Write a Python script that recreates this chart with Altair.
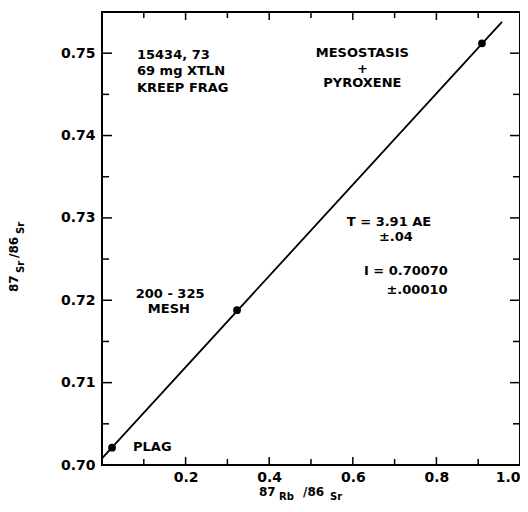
import altair as alt
import pandas as pd

# data points (87Rb/86Sr, 87Sr/86Sr)
pts_x = [0.024, 0.323, 0.909]
pts_y = [0.7021, 0.7188, 0.7512]

# isochron line end points
line_x = [0.0, 0.957]
line_y = [0.7008, 0.7538]

# tick values
x_major = [0.2, 0.4, 0.6, 0.8, 1.0]
x_minor = [0.1, 0.3, 0.5, 0.7, 0.9]
y_major = [0.70, 0.71, 0.72, 0.73, 0.74, 0.75]
y_minor = [0.705, 0.715, 0.725, 0.735, 0.745]

# annotations (left aligned)
annL_text = ["15434, 73", "69 mg XTLN", "KREEP FRAG", "PLAG"]
annL_x = [0.0837, 0.0837, 0.0837, 0.0742]
annL_y = [0.74924, 0.74733, 0.74530, 0.70170]

# annotations (centered)
annC_text = ["MESOSTASIS", "+", "PYROXENE", "200 - 325", "MESH",
             "T = 3.91 AE", "±.04", "I = 0.70070", "±.00010"]
annC_x = [0.6228, 0.6228, 0.6228, 0.163, 0.160,
          0.6866, 0.703, 0.727, 0.7536]
annC_y = [0.74951, 0.74757, 0.74587, 0.72027, 0.71845,
          0.72900, 0.72725, 0.72306, 0.72075]

W, H = 418, 453
FONT = "DejaVu Sans"

xs = alt.Scale(domain=[0.0, 1.0], nice=False, zero=False)
ys = alt.Scale(domain=[0.70, 0.755], nice=False, zero=False)

pts = pd.DataFrame({"x": pts_x, "y": pts_y})
ln = pd.DataFrame({"x": line_x, "y": line_y})
annL = pd.DataFrame({"t": annL_text, "x": annL_x, "y": annL_y})
annC = pd.DataFrame({"t": annC_text, "x": annC_x, "y": annC_y})

xaxis = alt.Axis(values=x_major, format=".1f", ticks=False, domain=False, grid=False,
                 labelPadding=5, title=None, labelFont=FONT, labelFontWeight="bold",
                 labelFontSize=14, labelColor="black", labelFlush=True)
yaxis = alt.Axis(values=y_major, format=".2f", ticks=False, domain=False, grid=False,
                 labelPadding=7, title=None, labelFont=FONT, labelFontWeight="bold",
                 labelFontSize=14, labelColor="black")

line = alt.Chart(ln).mark_line(color="black", strokeWidth=1.8).encode(
    x=alt.X("x:Q", scale=xs, axis=xaxis),
    y=alt.Y("y:Q", scale=ys, axis=yaxis),
)
points = alt.Chart(pts).mark_point(filled=True, color="black", size=60, opacity=1).encode(
    x=alt.X("x:Q", scale=xs), y=alt.Y("y:Q", scale=ys)
)

def yticks(vals, length):
    df = pd.DataFrame({"v": vals})
    left = alt.Chart(df).mark_rule(color="black", strokeWidth=1.5).encode(
        y=alt.Y("v:Q", scale=ys), x=alt.value(0), x2=alt.value(length))
    right = alt.Chart(df).mark_rule(color="black", strokeWidth=1.5).encode(
        y=alt.Y("v:Q", scale=ys), x=alt.value(W - length), x2=alt.value(W))
    return [left, right]

def xticks(vals, length):
    df = pd.DataFrame({"v": vals})
    bottom = alt.Chart(df).mark_rule(color="black", strokeWidth=1.5).encode(
        x=alt.X("v:Q", scale=xs), y=alt.value(H), y2=alt.value(H - length))
    top = alt.Chart(df).mark_rule(color="black", strokeWidth=1.5).encode(
        x=alt.X("v:Q", scale=xs), y=alt.value(0), y2=alt.value(length))
    return [bottom, top]

ticks = yticks(y_major, 10) + yticks(y_minor, 7) + xticks(x_major[:-1], 8) + xticks(x_minor, 6)

textL = alt.Chart(annL).mark_text(align="left", baseline="alphabetic", font=FONT,
                                  fontWeight="bold", fontSize=13, color="black").encode(
    x=alt.X("x:Q", scale=xs), y=alt.Y("y:Q", scale=ys), text="t:N")
textC = alt.Chart(annC).mark_text(align="center", baseline="alphabetic", font=FONT,
                                  fontWeight="bold", fontSize=13, color="black").encode(
    x=alt.X("x:Q", scale=xs), y=alt.Y("y:Q", scale=ys), text="t:N")

one = alt.Data(values=[{}])

def piece(txt, x, y, size, angle=0):
    return alt.Chart(one).mark_text(align="left", baseline="alphabetic", font=FONT,
                                    fontWeight="bold", fontSize=size, color="black",
                                    angle=angle).encode(
        x=alt.value(x), y=alt.value(y), text=alt.value(txt))

titles = [
    piece("87", 157, 484, 12), piece("Rb", 177, 488, 10),
    piece("/86", 201, 484, 12), piece("Sr", 228, 488, 10),
    piece("87", -84, 280, 12, 270), piece("Sr", -78, 261, 10, 270),
    piece("/86", -84, 246, 12, 270), piece("Sr", -78, 222, 10, 270),
]

chart = alt.layer(line, points, *ticks, textL, textC, *titles).properties(
    width=W, height=H,
    autosize=alt.AutoSizeParams(type="none"),
    padding={"left": 94, "top": 4, "right": 0, "bottom": 36},
).configure_view(stroke="black", strokeWidth=2)

chart.save("out.html", embed_options={"renderer": "svg", "actions": False})
